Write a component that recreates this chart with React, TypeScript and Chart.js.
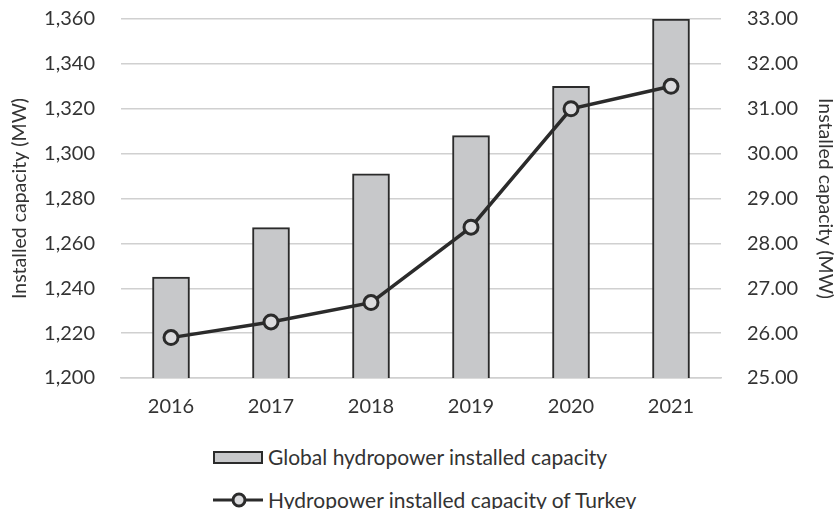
import React, { useEffect, useRef } from "react";
import { Chart, registerables } from "chart.js";

Chart.register(...registerables);

const categories = ["2016", "2017", "2018", "2019", "2020", "2021"];
const globalCapacity = [1245, 1267, 1291, 1308, 1330, 1360];
const turkeyCapacity = [25.9, 26.25, 26.68, 28.36, 31.0, 31.5];
const barLabel = "Global hydropower installed capacity";
const lineLabel = "Hydropower installed capacity of Turkey";
const axisTitle = "Installed capacity (MW)";

const FONT = "Lato, 'Open Sans', sans-serif";
const TEXT = "#333333";
const CANVAS_TOP = -19;
const CANVAS_H = 444;

export default function App() {
  const ref = useRef<HTMLCanvasElement | null>(null);

  useEffect(() => {
    if (!ref.current) return;
    const chart = new Chart(ref.current, {
      type: "bar",
      data: {
        labels: categories,
        datasets: [
          {
            type: "line",
            label: lineLabel,
            data: turkeyCapacity,
            yAxisID: "y2",
            borderColor: "#2b2b2b",
            borderWidth: 3.5,
            pointRadius: 7,
            pointBorderWidth: 3,
            pointBackgroundColor: "#dcdcde",
            pointBorderColor: "#2b2b2b",
            order: 0,
          } as any,
          {
            type: "bar",
            label: barLabel,
            data: globalCapacity,
            yAxisID: "y",
            backgroundColor: "#c7c8ca",
            borderColor: "#2b2b2b",
            borderWidth: 2,
            barThickness: 37,
            order: 1,
          },
        ],
      },
      options: {
        animation: false,
        responsive: true,
        maintainAspectRatio: false,
        layout: { padding: { top: 0, left: 0, right: 0, bottom: 0 } },
        plugins: {
          legend: { display: false },
          tooltip: { enabled: false },
        },
        scales: {
          x: {
            grid: { display: false, drawTicks: false },
            border: { display: true, color: "#d0d0d0", width: 1.5 },
            ticks: { color: TEXT, font: { family: FONT, size: 20 }, padding: 17 },
            afterFit: (s: any) => { s.height = 47; },
          },
          y: {
            position: "left",
            min: 1200,
            max: 1360,
            grid: { color: "#d0d0d0", lineWidth: 1.5, drawTicks: false },
            border: { display: false },
            ticks: {
              stepSize: 20,
              color: TEXT,
              font: { family: FONT, size: 20 },
              padding: 26,
              callback: (v: any) => Number(v).toLocaleString("en-US"),
            },
            title: {
              display: true,
              text: axisTitle,
              color: TEXT,
              font: { family: FONT, size: 19.5 },
              padding: { top: 8, bottom: 4 },
            },
            afterFit: (s: any) => { s.width = 121; },
          },
          y2: {
            position: "right",
            min: 25,
            max: 33,
            grid: { display: false, drawTicks: false },
            border: { display: false },
            ticks: {
              stepSize: 1,
              color: TEXT,
              font: { family: FONT, size: 20 },
              padding: 26,
              callback: (v: any) => Number(v).toFixed(2),
            },
            title: {
              display: true,
              text: axisTitle,
              color: TEXT,
              font: { family: FONT, size: 19.5 },
              padding: { top: 2, bottom: 4 },
            },
            afterFit: (s: any) => { s.width = 118; },
          },
        },
      },
    });
    return () => chart.destroy();
  }, []);

  const legendText: React.CSSProperties = {
    position: "absolute",
    left: 268,
    fontFamily: FONT,
    fontSize: 21,
    lineHeight: "26px",
    color: TEXT,
    whiteSpace: "nowrap",
  };

  return (
    <div style={{ position: "absolute", left: 0, top: 0, width: 839, height: 509, background: "#fff", overflow: "hidden" }}>
      <div style={{ position: "absolute", left: 0, top: CANVAS_TOP, width: 839, height: CANVAS_H }}>
        <canvas ref={ref} />
      </div>
      <div
        style={{
          position: "absolute",
          left: 213,
          top: 451,
          width: 50,
          height: 13,
          boxSizing: "border-box",
          background: "#c7c8ca",
          border: "2px solid #2b2b2b",
        }}
      />
      <span style={{ ...legendText, top: 444 }}>{barLabel}</span>
      <svg style={{ position: "absolute", left: 212, top: 490 }} width="52" height="20">
        <line x1="1" y1="10" x2="51" y2="10" stroke="#2b2b2b" strokeWidth="3" />
        <circle cx="27" cy="10" r="6" fill="#dcdcde" stroke="#2b2b2b" strokeWidth="3" />
      </svg>
      <span style={{ ...legendText, top: 487 }}>{lineLabel}</span>
    </div>
  );
}
